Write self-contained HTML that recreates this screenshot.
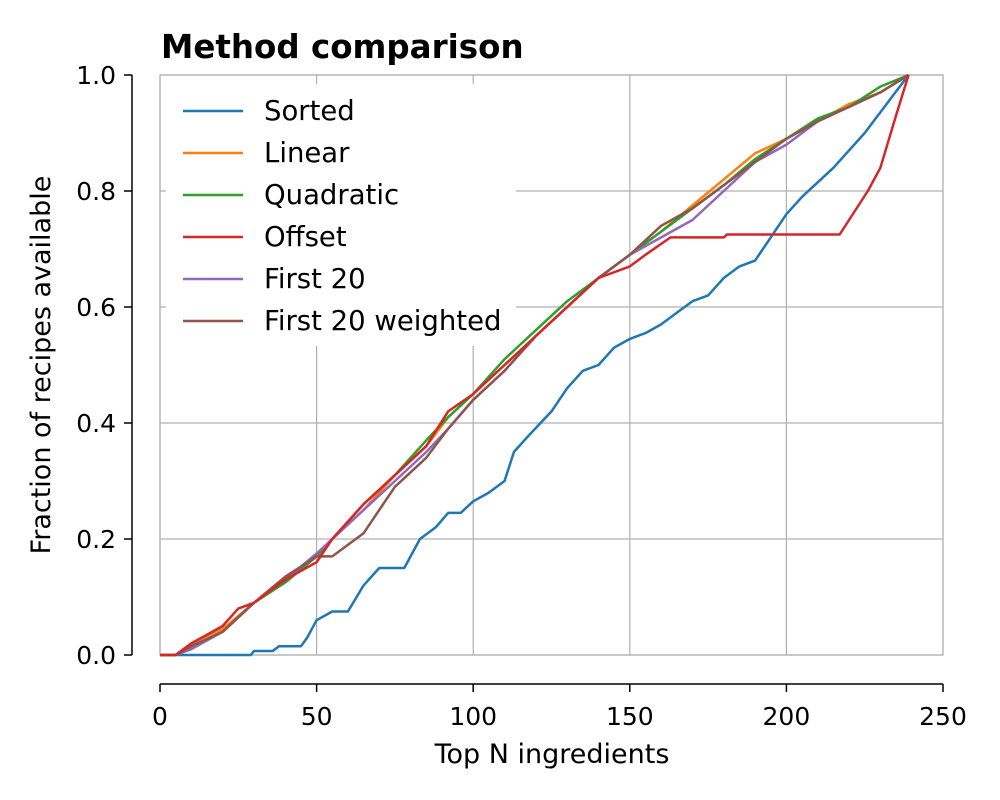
<!DOCTYPE html>
<html><head><meta charset="utf-8"><style>body{margin:0;background:#fff}svg{display:block}text{font-family:"DejaVu Sans","Liberation Sans",sans-serif;fill:#000}</style></head>
<body>
<svg id="chart" width="1000" height="800" viewBox="0 0 1000 800"></svg>
<script>
const seriesNames=["Sorted","Linear","Quadratic","Offset","First 20","First 20 weighted"];
const colors=["#1f77b4","#ff7f0e","#2ca02c","#d62728","#9467bd","#8c564b"];
const xTicks=[0,50,100,150,200,250];
const yTicks=[0,0.2,0.4,0.6,0.8,1.0];
const sortedX=[0,29,30,36,38,45,47,50,55,60,65,70,78,80,83,88,92,96,100,105,110,113,118,125,130,135,140,145,150,155,160,165,170,175,180,185,190,195,200,205,215,225,232,239];
const sortedY=[0,0,0.007,0.007,0.015,0.015,0.03,0.06,0.075,0.075,0.12,0.15,0.15,0.17,0.2,0.22,0.245,0.245,0.265,0.28,0.3,0.35,0.38,0.42,0.46,0.49,0.5,0.53,0.545,0.555,0.57,0.59,0.61,0.62,0.65,0.67,0.68,0.72,0.76,0.79,0.84,0.9,0.95,1.0];
const linX=[0,5,10,20,30,40,50,55,65,75,85,92,100,110,120,130,140,150,160,170,180,190,200,210,220,230,239];
const linearY=[0,0,0.02,0.045,0.09,0.13,0.17,0.2,0.25,0.31,0.36,0.41,0.45,0.5,0.55,0.6,0.65,0.69,0.73,0.775,0.82,0.865,0.89,0.92,0.95,0.97,1.0];
const quadY=[0,0,0.015,0.04,0.09,0.125,0.17,0.2,0.26,0.31,0.37,0.41,0.45,0.51,0.56,0.61,0.65,0.69,0.73,0.77,0.81,0.855,0.89,0.925,0.945,0.98,1.0];
const first20Y=[0,0,0.01,0.04,0.09,0.13,0.175,0.2,0.25,0.3,0.35,0.39,0.44,0.49,0.55,0.6,0.65,0.69,0.72,0.75,0.8,0.85,0.88,0.92,0.945,0.97,1.0];
const weightedY=[0,0,0.015,0.04,0.09,0.135,0.17,0.17,0.21,0.29,0.34,0.39,0.44,0.49,0.55,0.6,0.65,0.69,0.74,0.77,0.81,0.85,0.89,0.92,0.945,0.97,1.0];
const offsetX=[0,5,10,20,25,30,40,50,55,65,75,85,92,100,110,120,130,140,150,155,163,180,181,217,226,230,235,239];
const offsetY=[0,0,0.02,0.05,0.08,0.09,0.13,0.16,0.2,0.26,0.31,0.36,0.42,0.45,0.5,0.55,0.6,0.65,0.67,0.69,0.72,0.72,0.725,0.725,0.8,0.84,0.93,1.0];
const X=v=>160+v*(943-160)/250, Y=v=>655-v*(655-75);
const svg=document.getElementById('chart');const NS='http://www.w3.org/2000/svg';
function el(t,a,p){const e=document.createElementNS(NS,t);for(const k in a)e.setAttribute(k,a[k]);(p||svg).appendChild(e);return e;}
xTicks.forEach(t=>{const g=el('line',{x1:X(t),x2:X(t),y1:75,y2:655,stroke:'#b0b0b0','stroke-width':1.2});

const tk=el('line',{x1:X(t),x2:X(t),y1:684,y2:692,stroke:'#000','stroke-width':1.5});

const tx=el('text',{x:X(t),y:725,'font-size':25,'text-anchor':'middle'});tx.textContent=t;
});
yTicks.forEach(t=>{const g=el('line',{x1:160,x2:943,y1:Y(t),y2:Y(t),stroke:'#b0b0b0','stroke-width':1.2});

const tk=el('line',{x1:124,x2:132,y1:Y(t),y2:Y(t),stroke:'#000','stroke-width':1.5});

const tx=el('text',{x:116,y:Y(t)+9,'font-size':25,'text-anchor':'end'});tx.textContent=t.toFixed(1);
});
const fr=el('rect',{x:160,y:75,width:783,height:580,fill:'none',stroke:'#b0b0b0','stroke-width':1.2});

const ax=el('line',{x1:160,x2:943,y1:684,y2:684,stroke:'#000','stroke-width':1.5});

const ay=el('line',{x1:132,x2:132,y1:75,y2:655,stroke:'#000','stroke-width':1.5});

const data=[[sortedX,sortedY],[linX,linearY],[linX,quadY],[offsetX,offsetY],[linX,first20Y],[linX,weightedY]];
const order=[0,1,2,4,5,3];
const lg=el('rect',{x:166,y:84,width:350,height:262,fill:'#fff'});

order.forEach(i=>{const [xs,ys]=data[i];const p=el('polyline',{points:xs.map((x,j)=>X(x)+','+Y(ys[j])).join(' '),fill:'none',stroke:colors[i],'stroke-width':2.5,'stroke-linejoin':'round'});
});
seriesNames.forEach((n,i)=>{const y=111+i*42;
const l=el('line',{x1:183,x2:243,y1:y,y2:y,stroke:colors[i],'stroke-width':2.5});

const t=el('text',{x:264,y:y+9,'font-size':27.5});t.textContent=n;
});
const ti=el('text',{x:161,y:58,'font-size':32.5,'font-weight':'bold'});ti.textContent='Method comparison';

const xl=el('text',{x:552,y:763,'font-size':27,'text-anchor':'middle'});xl.textContent='Top N ingredients';

const yl=el('text',{x:0,y:0,'font-size':27,'text-anchor':'middle',transform:'translate(50,365) rotate(-90)'});yl.textContent='Fraction of recipes available';

</script>
</body></html>
